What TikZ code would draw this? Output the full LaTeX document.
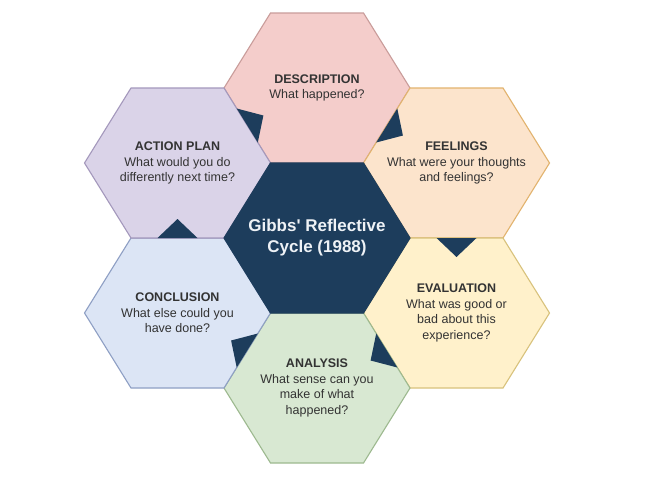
\documentclass[tikz,border=0pt]{standalone}
\usepackage{fontspec}
\setmainfont{Liberation Sans}
\usetikzlibrary{calc}
\definecolor{navy}{HTML}{1D3D5C}
\definecolor{descfill}{HTML}{F4CDCB}
\definecolor{descline}{HTML}{C99C9A}
\definecolor{feelfill}{HTML}{FCE4CC}
\definecolor{feelline}{HTML}{E2B36E}
\definecolor{evalfill}{HTML}{FFF1CB}
\definecolor{evalline}{HTML}{D8C27C}
\definecolor{anafill}{HTML}{D8E8D2}
\definecolor{analine}{HTML}{9DB98F}
\definecolor{concfill}{HTML}{DCE5F5}
\definecolor{concline}{HTML}{8E9FC4}
\definecolor{actfill}{HTML}{DAD3E8}
\definecolor{actline}{HTML}{A498BC}
\definecolor{centerline}{HTML}{1D3D5C}
\definecolor{textgray}{HTML}{333333}
\definecolor{centertext}{HTML}{EEF2F6}
\newcommand\hexcell[5]{%
  \coordinate (#1) at (#2,#3);
  \coordinate (#1-l) at (#2-93,#3);
  \coordinate (#1-tl) at (#2-46.5,#3-75);
  \coordinate (#1-tr) at (#2+46.5,#3-75);
  \coordinate (#1-r) at (#2+93,#3);
  \coordinate (#1-br) at (#2+46.5,#3+75);
  \coordinate (#1-bl) at (#2-46.5,#3+75);
  \filldraw[hexbox,fill=#4,draw=#5] (#1-l) -- (#1-tl) -- (#1-tr) -- (#1-r) -- (#1-br) -- (#1-bl) -- cycle;
}
\newcommand\cyclearrow[3]{%
  \coordinate (#1) at ($(#2)!0.5!(#3)$);
  \fill[arrowtri] ($(#1)!20pt!(#2)$) -- ($(#1)!20pt!(#3)$) -- ($(#1)!19pt!-90:(#2)$) -- cycle;
}
\begin{document}
\begin{tikzpicture}[x=1pt,y=-1pt,
  hexbox/.style={line width=1.1pt,line join=miter},
  arrowtri/.style={fill=navy},
  hexlabel/.style={align=center,text=textgray,inner sep=0pt,font=\fontsize{12.5}{15.5}\selectfont},
  centerlabel/.style={align=center,text=centertext,inner sep=0pt,font=\bfseries\fontsize{17}{21}\selectfont}]
\fill[white] (0,0) rectangle (668,490);
\useasboundingbox (0,0) rectangle (668,490);
\hexcell{D}{317}{88}{descfill}{descline}
\hexcell{F}{456.5}{163}{feelfill}{feelline}
\hexcell{E}{456.5}{313}{evalfill}{evalline}
\hexcell{An}{317}{388}{anafill}{analine}
\hexcell{C}{177.5}{313}{concfill}{concline}
\hexcell{AP}{177.5}{163}{actfill}{actline}
\hexcell{G}{317}{238}{navy}{centerline}
\cyclearrow{m1}{D-r}{D-br}
\cyclearrow{m2}{F-br}{F-bl}
\cyclearrow{m3}{E-bl}{E-l}
\cyclearrow{m4}{An-l}{An-tl}
\cyclearrow{m5}{C-tl}{C-tr}
\cyclearrow{m6}{AP-tr}{AP-r}
\node[hexlabel] (tD) at (D) {\textbf{DESCRIPTION}\\What happened?};
\node[hexlabel] (tF) at (F) {\textbf{FEELINGS}\\What were your thoughts\\and feelings?};
\node[hexlabel] (tE) at (E) {\textbf{EVALUATION}\\What was good or\\bad about this\\experience?};
\node[hexlabel] (tAn) at (An) {\textbf{ANALYSIS}\\What sense can you\\make of what\\happened?};
\node[hexlabel] (tC) at (C) {\textbf{CONCLUSION}\\What else could you\\have done?};
\node[hexlabel] (tAP) at (AP) {\textbf{ACTION PLAN}\\What would you do\\differently next time?};
\node[centerlabel] (tG) at (G) {Gibbs\textquotesingle{} Reflective\\Cycle (1988)};
\end{tikzpicture}
\end{document}
